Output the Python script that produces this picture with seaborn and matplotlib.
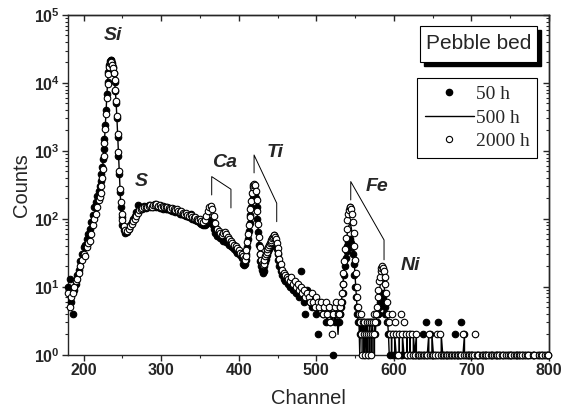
import numpy as np
import pandas as pd
import matplotlib
matplotlib.use('Agg')
import matplotlib.pyplot as plt
import seaborn as sns
from matplotlib.lines import Line2D
from matplotlib.patches import Rectangle
from matplotlib.ticker import LogLocator, MultipleLocator, NullFormatter

# Channel grid: every 2nd channel on the continuum, every channel on the peaks
channel = np.concatenate([
    np.arange(180, 221, 2),   # 21
    np.arange(221, 251),      # 30  Si peak
    np.arange(252, 407, 2),   # 78  S continuum, Ca
    np.arange(407, 453),      # 46  Ti
    np.arange(454, 529, 2),   # 38
    np.arange(529, 596),      # 67  Fe, Ni
    np.arange(597, 800, 2),   # 102 tail
])

counts_50h = [
    # 180-220
    10, 13, 6, 4, 9, 11, 15, 18, 24, 30, 38, 42, 50, 60, 72, 90, 115, 150, 180, 220, 260,
    # 221-250
    300, 360, 450, 580, 760, 1050, 1500, 2400, 4000, 6800,
    10500, 14500, 18500, 21000, 22000, 21500, 19500, 17000, 14000, 10500,
    7500, 5000, 3000, 1600, 850, 450, 250, 150, 105, 82,
    # 252-406
    68, 62, 64, 70, 80, 90, 100, 112, 125, 160, 140, 150, 140, 155, 145,
    150, 160, 148, 155, 150, 165, 150, 158, 145, 150, 140, 148, 142, 138, 145,
    135, 132, 138, 128, 130, 125, 120, 118, 122, 115, 110, 112, 105, 120, 100,
    98, 95, 92, 94, 88, 85, 82, 80, 84, 90, 95, 92, 85, 72, 62,
    56, 58, 52, 50, 48, 50, 46, 44, 42, 40, 38, 36, 34, 32, 31, 29, 27, 22,
    # 407-452
    21, 22, 25, 30, 38, 50, 66, 88, 115, 150, 190, 225, 250, 255, 240,
    200, 150, 100, 65, 42, 30, 24, 20, 18, 16, 17, 20, 23, 26, 29,
    32, 34, 36, 38, 40, 42, 44, 46, 47, 47, 45, 41, 36, 30, 25, 20,
    # 454-528
    17, 15, 13, 12, 14, 11, 10, 12, 9, 11, 8, 10, 7, 17, 8, 6, 4, 9, 7, 6,
    5, 7, 5, 4, 2, 6, 5, 4, 5, 3, 4, 5, 3, 4, 1, 3, 4, 3,
    # 529-595
    3, 4, 4, 5, 6, 8, 11, 15, 20, 27, 34, 40, 45, 48, 50, 48, 44, 38, 30, 22,
    15, 10, 7, 5, 4, 3, 3, 2, 3, 2, 3, 2, 1, 3, 2, 3, 2, 1, 3, 2,
    3, 2, 3, 2, 3, 2, 3, 2, 3, 3, 4, 4, 5, 6, 7, 7, 8, 7, 6, 5,
    4, 4, 3, 3, 2, 2, 1,
    # 597-799
    2, 1, 2, 1, 1, 2, 1, 1, 2, 1, 1, 1, 2, 1, 1, 1, 1, 1, 1, 1,
    2, 1, 3, 1, 1, 2, 1, 1, 1, 1, 3, 1, 1, 1, 0, 1, 1, 1, 1, 0,
    1, 2, 1, 1, 1, 3, 1, 2, 1, 1, 1, 1, 1, 0, 1, 1, 1, 1, 0, 1,
    1, 1, 0, 1, 1, 1, 0, 1, 1, 1, 1, 0, 1, 1, 0, 1, 1, 1, 1, 0,
    1, 1, 1, 0, 1, 1, 1, 0, 1, 1, 0, 1, 1, 0, 1, 1, 0, 1, 1, 0,
    1, 1,
]

counts_500h = [
    # 180-220
    9, 7, 6, 6, 9, 11, 14, 17, 22, 28, 34, 35, 44, 52, 60, 75, 98, 125, 150, 185, 225,
    # 221-250
    260, 300, 375, 490, 650, 950, 1400, 2250, 3700, 6400,
    10000, 14000, 17800, 20300, 21200, 20700, 19000, 16700, 14000, 10800,
    7700, 5200, 3100, 1700, 900, 470, 265, 160, 112, 88,
    # 252-406
    72, 64, 62, 70, 78, 88, 96, 106, 118, 130, 138, 145, 142, 152, 148,
    152, 158, 150, 158, 154, 162, 152, 160, 148, 155, 145, 152, 144, 146, 140,
    138, 140, 132, 132, 134, 126, 124, 126, 118, 118, 118, 112, 108, 112, 104,
    100, 100, 96, 94, 95, 90, 86, 88, 96, 112, 122, 118, 102, 84, 68,
    62, 60, 56, 55, 56, 57, 54, 50, 46, 43, 40, 38, 36, 34, 32, 30, 28, 24,
    # 407-452
    23, 24, 27, 33, 42, 56, 74, 97, 128, 168, 215, 260, 285, 292, 275,
    230, 170, 115, 75, 48, 34, 27, 22, 19, 18, 19, 22, 26, 28, 31,
    34, 36, 39, 41, 43, 46, 49, 51, 52, 52, 50, 45, 40, 34, 28, 23,
    # 454-528
    20, 16, 15, 13, 12, 12, 11, 13, 10, 11, 9, 10, 8, 9, 8, 7, 6, 8, 6, 7,
    6, 5, 6, 5, 4, 5, 6, 4, 5, 4, 3, 5, 4, 3, 4, 3, 5, 2,
    # 529-595
    3, 4, 5, 6, 7, 10, 14, 20, 28, 38, 50, 62, 72, 80, 84, 82, 75, 62, 48, 34,
    22, 14, 9, 6, 4, 3, 3, 1, 3, 2, 3, 0, 3, 2, 0, 3, 1, 3, 0, 2,
    3, 0, 2, 3, 2, 0, 3, 2, 3, 4, 5, 6, 8, 10, 12, 13, 14, 13, 11, 9,
    7, 5, 4, 3, 2, 1, 0,
    # 597-799
    2, 0, 2, 1, 0, 2, 0, 2, 1, 0, 2, 0, 2, 0, 2, 1, 2, 0, 1, 1,
    0, 1, 1, 1, 2, 0, 2, 1, 1, 1, 1, 0, 2, 1, 1, 1, 1, 1, 0, 1,
    1, 1, 1, 1, 1, 1, 1, 2, 0, 1, 1, 1, 1, 1, 1, 1, 0, 1, 1, 1,
    1, 1, 1, 1, 1, 1, 1, 1, 1, 1, 1, 1, 1, 1, 1, 1, 1, 1, 1, 1,
    1, 1, 1, 1, 1, 1, 1, 1, 1, 1, 1, 1, 1, 1, 1, 1, 1, 1, 1, 1,
    1, 1,
]

counts_2000h = [
    # 180-220
    8, 5, 7, 8, 10, 12, 13, 16, 20, 25, 30, 28, 38, 44, 48, 60, 80, 100, 120, 150, 190,
    # 221-250
    210, 240, 300, 400, 550, 850, 1300, 2100, 3500, 6000,
    9500, 13500, 17000, 19500, 20500, 20000, 18500, 16500, 14000, 11000,
    8000, 5500, 3300, 1800, 950, 500, 280, 175, 120, 95,
    # 252-406
    78, 68, 66, 72, 78, 85, 92, 100, 110, 122, 135, 142, 146, 150, 152,
    148, 155, 158, 150, 162, 158, 165, 155, 160, 152, 156, 150, 148, 152, 145,
    142, 146, 138, 135, 138, 130, 128, 132, 122, 120, 124, 115, 112, 115, 108,
    104, 106, 100, 96, 98, 92, 90, 95, 110, 130, 150, 155, 138, 110, 88,
    72, 66, 62, 58, 62, 65, 60, 55, 50, 47, 44, 42, 40, 37, 35, 32, 30, 28,
    # 407-452
    26, 25, 28, 35, 45, 60, 80, 105, 140, 185, 240, 290, 320, 330, 310,
    260, 190, 130, 85, 55, 38, 30, 25, 22, 21, 22, 25, 28, 30, 33,
    36, 38, 41, 44, 46, 49, 52, 55, 57, 58, 55, 50, 44, 37, 31, 26,
    # 454-528
    22, 18, 16, 15, 14, 13, 12, 14, 11, 12, 10, 11, 9, 10, 8, 9, 7, 8, 7, 6,
    8, 6, 5, 7, 6, 5, 6, 4, 5, 6, 4, 5, 3, 2, 4, 5, 6, 4,
    # 529-595
    4, 5, 5, 6, 8, 11, 16, 24, 36, 52, 72, 95, 118, 135, 148, 150, 140, 118, 90, 62,
    40, 25, 16, 10, 7, 5, 4, 3, 4, 2, 1, 3, 2, 3, 1, 2, 3, 2, 1, 3,
    2, 1, 3, 2, 3, 2, 4, 3, 4, 5, 7, 9, 12, 14, 17, 19, 20, 19, 17, 14,
    11, 8, 6, 4, 3, 3, 2,
    # 597-799
    4, 2, 3, 2, 1, 2, 4, 2, 3, 2, 1, 2, 1, 2, 1, 1, 2, 1, 1, 1,
    1, 1, 1, 1, 2, 1, 1, 1, 1, 2, 1, 2, 1, 1, 1, 1, 1, 1, 1, 1,
    1, 1, 1, 1, 1, 1, 2, 1, 1, 1, 1, 1, 1, 1, 2, 1, 1, 0, 1, 1,
    1, 1, 1, 0, 1, 1, 1, 1, 1, 1, 0, 1, 1, 0, 1, 1, 1, 1, 0, 1,
    1, 1, 1, 1, 1, 0, 1, 1, 1, 0, 0, 1, 1, 0, 0, 1, 1, 1, 0, 1,
    1, 1,
]

# element labels (channel, counts)
elements = ['Si', 'S', 'Ca', 'Ti', 'Fe', 'Ni']
label_channel = [238, 275, 382, 447, 578, 621]
label_counts = [50000, 350, 680, 960, 300, 20.5]

assert len(channel) == len(counts_50h) == len(counts_500h) == len(counts_2000h)

df = pd.DataFrame({'channel': channel, '50 h': counts_50h,
                   '500 h': counts_500h, '2000 h': counts_2000h})

sns.set_style('ticks')
plt.rcParams['font.family'] = ['Liberation Sans', 'DejaVu Sans']
plt.rcParams['mathtext.fontset'] = 'custom'
plt.rcParams['mathtext.rm'] = 'Liberation Sans'
plt.rcParams['mathtext.bf'] = 'Liberation Sans:bold'
plt.rcParams['axes.linewidth'] = 1.0

fig, ax = plt.subplots(figsize=(5.62, 4.16), dpi=100)
fig.subplots_adjust(left=0.121, right=0.977, bottom=0.147, top=0.964)
ax.set_yscale('log')
ax.set_xlim(180, 800)
ax.set_ylim(1, 1e5)

sns.scatterplot(data=df[df['50 h'] > 0], x='channel', y='50 h', color='black',
                edgecolor='black', s=22, linewidth=0.8, clip_on=False,
                zorder=3, legend=False, ax=ax)
sns.lineplot(data=df, x='channel', y='500 h', color='black', lw=1.0,
             estimator=None, sort=False, zorder=4, legend=False, ax=ax)
sns.scatterplot(data=df[df['2000 h'] > 0], x='channel', y='2000 h', color='white',
                edgecolor='black', s=22, linewidth=0.8, clip_on=False,
                zorder=5, legend=False, ax=ax)

# leader lines for the peak labels
for xs, ys in [([365.2, 365.2, 390, 390], [225, 419, 273, 145]),
               ([419.8, 419.8, 449, 449], [475, 871, 170, 91]),
               ([544.4, 544.4, 587.3, 587.3], [190, 354, 49, 25])]:
    ax.plot(xs, ys, color='black', lw=0.7, zorder=6)

for name, cx, cy in zip(elements, label_channel, label_counts):
    ax.text(cx, cy, name, fontsize=14, fontweight='bold', fontstyle='italic',
            ha='center', va='center', zorder=7)

# ticks
ax.set_xticks(range(200, 801, 100))
ax.xaxis.set_minor_locator(MultipleLocator(50))
ax.set_yticks([10.0 ** k for k in range(6)])
ax.set_yticklabels([r'$\mathbf{10^{%d}}$' % k for k in range(6)])
ax.yaxis.set_minor_locator(LogLocator(base=10, subs=range(2, 10), numticks=20))
ax.yaxis.set_minor_formatter(NullFormatter())
ax.tick_params(which='major', direction='out', length=4, width=1, labelsize=11.5, pad=2)
ax.tick_params(which='minor', direction='out', length=2.2, width=0.8)
for lab in ax.get_xticklabels():
    lab.set_fontweight('bold')

secx = ax.secondary_xaxis('top')
secx.set_xticks(range(200, 801, 100))
secx.xaxis.set_minor_locator(MultipleLocator(50))
secx.tick_params(which='major', direction='in', length=4, width=1, labeltop=False)
secx.tick_params(which='minor', direction='in', length=2.2, width=0.8)

secy = ax.secondary_yaxis('right')
secy.set_yticks([10.0 ** k for k in range(6)])
secy.yaxis.set_minor_locator(LogLocator(base=10, subs=range(2, 10), numticks=20))
secy.yaxis.set_minor_formatter(NullFormatter())
secy.tick_params(which='major', direction='in', length=4, width=1, labelright=False)
secy.tick_params(which='minor', direction='in', length=2.2, width=0.8)

ax.set_xlabel('Channel', fontsize=14.5, labelpad=8)
ax.set_ylabel('Counts', fontsize=14.5, labelpad=2)

# "Pebble bed" box with drop shadow
bx, by, bw, bh = 0.732, 0.862, 0.243, 0.106
ax.add_patch(Rectangle((bx + 0.009, by - 0.012), bw, bh, transform=ax.transAxes,
                       facecolor='black', edgecolor='black', zorder=8, clip_on=False))
ax.add_patch(Rectangle((bx, by), bw, bh, transform=ax.transAxes,
                       facecolor='white', edgecolor='black', lw=0.8, zorder=9, clip_on=False))
ax.text(bx + bw / 2, by + bh / 2, 'Pebble bed', transform=ax.transAxes,
        fontsize=15, ha='center', va='center', zorder=10)

handles = [
    Line2D([], [], marker='o', color='black', ls='none', markersize=4.5),
    Line2D([], [], color='black', lw=1.0),
    Line2D([], [], marker='o', mfc='white', mec='black', mew=0.8, ls='none', markersize=4.5),
]
leg = ax.legend(handles, ['50 h', '500 h', '2000 h'], loc='upper right',
                bbox_to_anchor=(0.975, 0.815), frameon=True, fancybox=False,
                edgecolor='black', framealpha=1, handlelength=2.5,
                handletextpad=0.1, labelspacing=0.3, borderpad=0.4,
                borderaxespad=0, prop={'family': 'Liberation Serif', 'size': 14})
leg.get_frame().set_linewidth(0.8)
leg.set_zorder(10)

fig.savefig('out.png', dpi=100)
